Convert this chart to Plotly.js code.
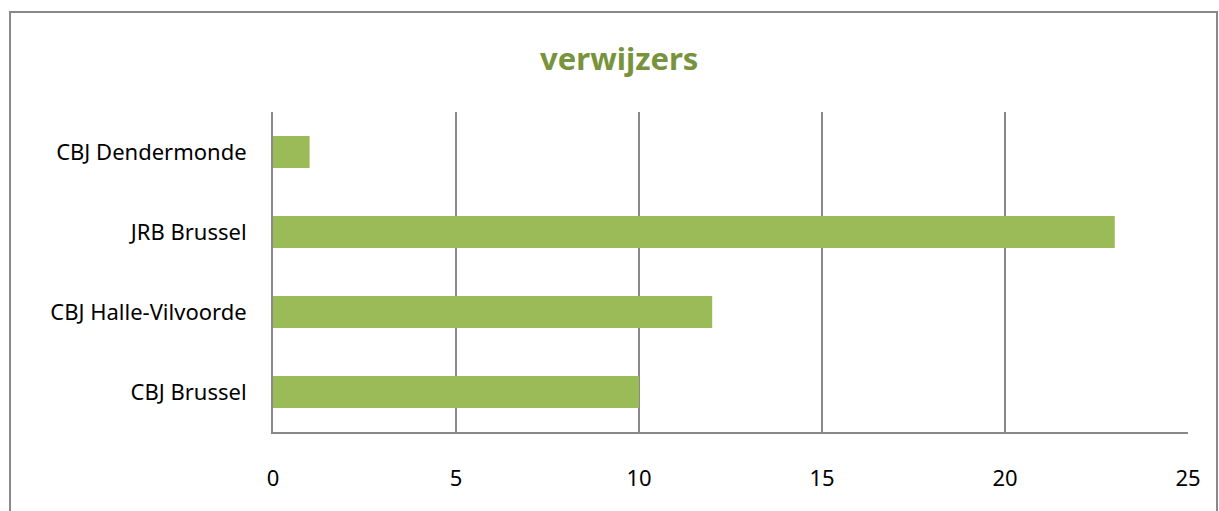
<!DOCTYPE html>
<html>
<head>
<meta charset="utf-8">
<script src="https://cdn.plot.ly/plotly-3.0.1.min.js"></script>
<style>
  html, body { margin: 0; padding: 0; background: #fff; }
  #chart { width: 1219px; height: 511px; }
</style>
</head>
<body>
<div id="chart"></div>
<script>
const categories = ["CBJ Brussel", "CBJ Halle-Vilvoorde", "JRB Brussel", "CBJ Dendermonde"];
const values = [10, 12, 23, 1];
const tickValues = [0, 5, 10, 15, 20, 25];

const trace = {
  type: "bar",
  orientation: "h",
  y: categories,
  x: values,
  marker: { color: "#9BBB59" },
  hoverinfo: "x+y"
};

const layout = {
  width: 1219,
  height: 511,
  margin: { l: 273, r: 31, t: 112, b: 79 },
  paper_bgcolor: "#ffffff",
  plot_bgcolor: "#ffffff",
  bargap: 0.6,
  showlegend: false,
  font: { family: "Noto Sans, sans-serif", size: 22, color: "#000000" },
  title: {
    text: "verwijzers",
    font: { family: "Noto Sans, sans-serif", size: 31, color: "#77933C", weight: "bold" },
    xref: "container", x: 0.508, xanchor: "center",
    yref: "container", y: 0.885, yanchor: "middle"
  },
  xaxis: {
    range: [0, 25],
    tickvals: tickValues,
    showgrid: true,
    gridcolor: "#888888",
    gridwidth: 2,
    zeroline: false,
    showline: true,
    linecolor: "#888888",
    linewidth: 2,
    ticks: "",
    ticklabelstandoff: 26,
    tickfont: { size: 22 }
  },
  yaxis: {
    type: "category",
    showgrid: false,
    zeroline: false,
    showline: true,
    linecolor: "#888888",
    linewidth: 2,
    ticks: "",
    ticklabelstandoff: 20,
    tickfont: { size: 22 }
  },
  shapes: [{
    type: "rect",
    xref: "paper", yref: "paper",
    x0: -0.2874, x1: 1.0317,
    y0: -0.3, y1: 1.3125,
    line: { color: "#888888", width: 2 },
    fillcolor: "rgba(0,0,0,0)",
    layer: "below"
  }]
};

Plotly.newPlot("chart", [trace], layout, { displayModeBar: false, staticPlot: true });
</script>
</body>
</html>
